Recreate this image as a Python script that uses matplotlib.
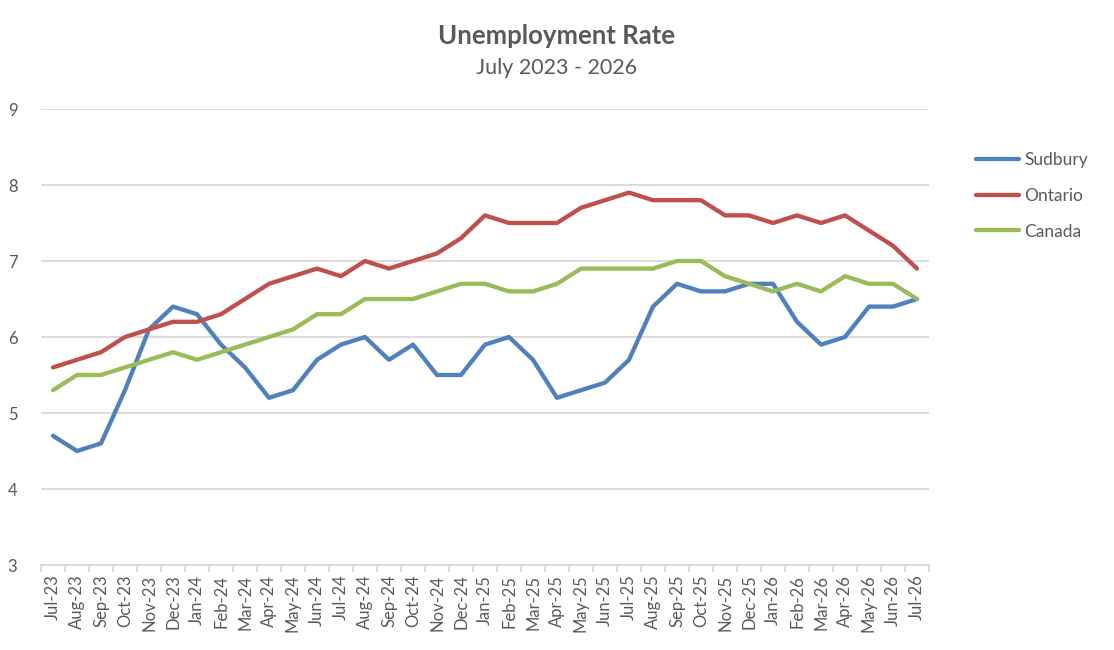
import matplotlib
matplotlib.use("Agg")
import matplotlib.pyplot as plt
from matplotlib.ticker import FixedLocator

plt.rcParams['font.family'] = ['Lato', 'DejaVu Sans']

months = ["Jul-23", "Aug-23", "Sep-23", "Oct-23", "Nov-23", "Dec-23",
          "Jan-24", "Feb-24", "Mar-24", "Apr-24", "May-24", "Jun-24",
          "Jul-24", "Aug-24", "Sep-24", "Oct-24", "Nov-24", "Dec-24",
          "Jan-25", "Feb-25", "Mar-25", "Apr-25", "May-25", "Jun-25",
          "Jul-25", "Aug-25", "Sep-25", "Oct-25", "Nov-25", "Dec-25",
          "Jan-26", "Feb-26", "Mar-26", "Apr-26", "May-26", "Jun-26", "Jul-26"]

sudbury = [4.7, 4.5, 4.6, 5.3, 6.1, 6.4, 6.3, 5.9, 5.6, 5.2, 5.3, 5.7,
           5.9, 6.0, 5.7, 5.9, 5.5, 5.5, 5.9, 6.0, 5.7, 5.2, 5.3, 5.4,
           5.7, 6.4, 6.7, 6.6, 6.6, 6.7, 6.7, 6.2, 5.9, 6.0, 6.4, 6.4, 6.5]
ontario = [5.6, 5.7, 5.8, 6.0, 6.1, 6.2, 6.2, 6.3, 6.5, 6.7, 6.8, 6.9,
           6.8, 7.0, 6.9, 7.0, 7.1, 7.3, 7.6, 7.5, 7.5, 7.5, 7.7, 7.8,
           7.9, 7.8, 7.8, 7.8, 7.6, 7.6, 7.5, 7.6, 7.5, 7.6, 7.4, 7.2, 6.9]
canada = [5.3, 5.5, 5.5, 5.6, 5.7, 5.8, 5.7, 5.8, 5.9, 6.0, 6.1, 6.3,
          6.3, 6.5, 6.5, 6.5, 6.6, 6.7, 6.7, 6.6, 6.6, 6.7, 6.9, 6.9,
          6.9, 6.9, 7.0, 7.0, 6.8, 6.7, 6.6, 6.7, 6.6, 6.8, 6.7, 6.7, 6.5]

series = [("Sudbury", sudbury, "#4F81BD"),
          ("Ontario", ontario, "#C0504D"),
          ("Canada", canada, "#9BBB59")]

W, H = 1114, 650
fig = plt.figure(figsize=(W / 100, H / 100), dpi=100)
ax = fig.add_axes([41 / W, 1 - 565 / H, (929 - 41) / W, (565 - 109) / H])

x = list(range(len(months)))
for name, vals, col in series:
    ax.plot(x, vals, color=col, lw=3.1, label=name,
            solid_capstyle='round', solid_joinstyle='round')

ax.set_xlim(-0.5, len(months) - 0.5)
ax.set_ylim(3, 9)
ax.set_yticks(range(3, 10))
ax.yaxis.grid(True, color="#D9D9D9", lw=1.3)
ax.set_axisbelow(True)
for s in ["top", "right", "left"]:
    ax.spines[s].set_visible(False)
ax.spines["bottom"].set_color("#D9D9D9")
ax.spines["bottom"].set_linewidth(1.3)

ax.set_xticks(x)
ax.set_xticklabels(months, rotation=90, fontsize=12, color="#595959")
ax.tick_params(axis='x', which='major', length=0, pad=7)
ax.xaxis.set_minor_locator(FixedLocator([i - 0.5 for i in range(len(months) + 1)]))
ax.tick_params(axis='x', which='minor', length=5, color="#D9D9D9", width=1.3)
ax.tick_params(axis='y', length=0, labelsize=12, labelcolor="#595959", pad=17)

fig.text(557 / W, 1 - 36 / H, "Unemployment Rate", ha='center', va='center',
         fontsize=18.5, fontweight='bold', color="#595959")
fig.text(557 / W, 1 - 68 / H, "July 2023 - 2026", ha='center', va='center',
         fontsize=15.5, color="#595959")

leg = fig.legend(loc='upper left', bbox_to_anchor=(960 / W, 1 - 136 / H),
                 frameon=False, fontsize=12.5, handlelength=2.5,
                 handletextpad=0.3, labelspacing=1.15)
for t in leg.get_texts():
    t.set_color("#595959")

fig.savefig("out.png", dpi=100)
